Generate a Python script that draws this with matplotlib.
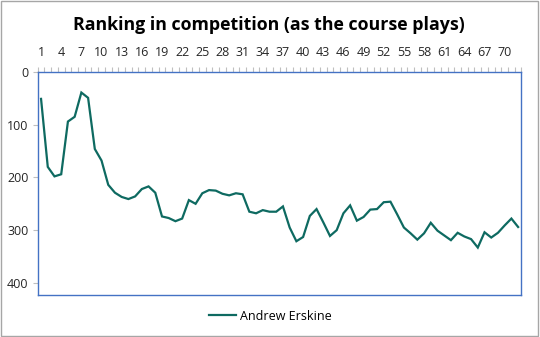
import matplotlib
matplotlib.use("Agg")
import matplotlib.pyplot as plt
import numpy as np

plt.rcParams['font.family'] = ['Open Sans', 'DejaVu Sans']

title = "Ranking in competition (as the course plays)"
series_name = "Andrew Erskine"
rounds = list(range(1, 73))
ranking = [51, 180, 198, 194, 94, 85, 39, 49, 146, 168,
           214, 229, 237, 241, 236, 222, 217, 229, 274, 277,
           283, 278, 243, 250, 230, 224, 225, 231, 234, 230,
           232, 265, 268, 262, 265, 265, 255, 295, 321, 313,
           273, 260, 285, 311, 300, 268, 253, 282, 275, 261,
           260, 247, 246, 270, 295, 306, 318, 306, 286, 301,
           310, 319, 305, 312, 317, 333, 304, 314, 305, 291,
           278, 294]
xtick_labels = list(range(1, 71, 3))
ytick_values = [0, 100, 200, 300, 400]

fig = plt.figure(figsize=(5.4, 3.37), dpi=100)
fig.patch.set_facecolor('white')
# outer border
fig.add_artist(plt.Rectangle((0.001, 0.002), 0.996, 0.995, transform=fig.transFigure,
                             fill=False, edgecolor='#A6A6A6', linewidth=1.0))

ax = fig.add_axes([0.0698, 0.1246, 0.8959, 0.6618])
line_color = '#0E6A61'
ax.plot(rounds, ranking, color=line_color, linewidth=1.6, label=series_name,
        solid_joinstyle='miter')

ax.set_xlim(0.5, len(rounds) + 0.5)
ax.set_ylim(423, 0)
ax.xaxis.tick_top()
ax.set_xticks(xtick_labels)
ax.set_xticklabels([str(v) for v in xtick_labels])
ax.set_xticks(np.arange(0.5, len(rounds) + 1, 1), minor=True)
ax.tick_params(axis='x', which='major', length=0, pad=9, labelsize=9, labelcolor='#262626')
ax.tick_params(axis='x', which='minor', length=3.5, color='#BFBFBF', width=0.8)
ax.set_yticks(ytick_values)
ax.set_yticklabels([str(v) for v in ytick_values])
ax.tick_params(axis='y', which='major', length=3.5, color='#BFBFBF', width=0.8,
               labelsize=9, labelcolor='#262626', pad=3)
ax.tick_params(axis='y', which='minor', left=False)
for s in ax.spines.values():
    s.set_edgecolor('#4472C4')
    s.set_linewidth(1.0)

fig.text(0.497, 0.927, title, ha='center', va='center', fontsize=12.8,
         fontweight='bold', color='black')

fig.legend(loc='center', bbox_to_anchor=(0.5, 0.062), frameon=False, fontsize=9,
           handlelength=2.2, handletextpad=0.3)

fig.savefig('out.png', dpi=100, facecolor='white')
